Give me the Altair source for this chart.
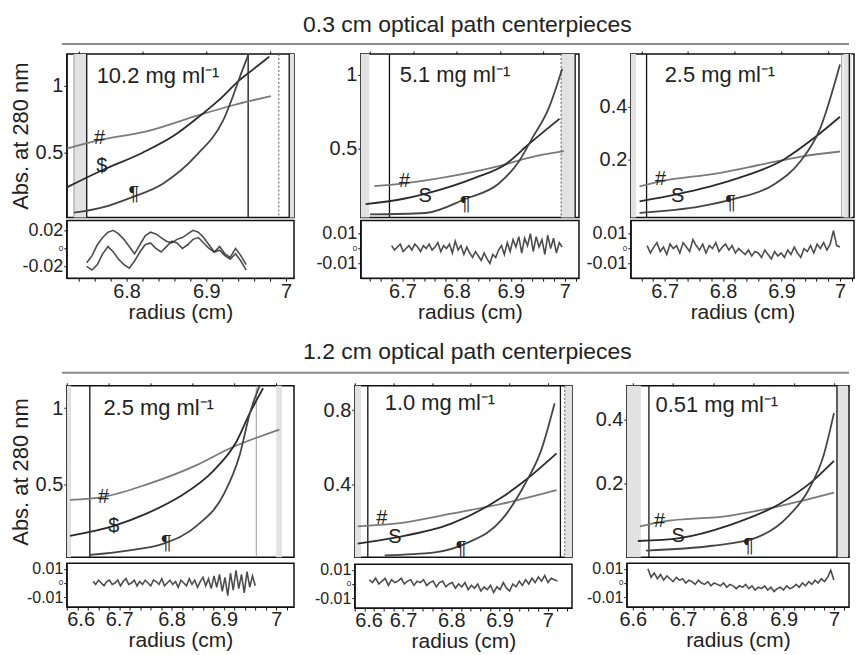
import altair as alt
import numpy as np
import pandas as pd

FONT = "Liberation Sans"

HEADERS = ["0.3 cm optical path centerpieces", "1.2 cm optical path centerpieces"]
CONC = ["10.2 mg ml\u207b\u00b9", "5.1 mg ml\u207b\u00b9", "2.5 mg ml\u207b\u00b9",
        "2.5 mg ml\u207b\u00b9", "1.0 mg ml\u207b\u00b9", "0.51 mg ml\u207b\u00b9"]
SYMS = [["#", "$", "\u00b6"], ["#", "S", "\u00b6"], ["#", "S", "\u00b6"],
        ["#", "$", "\u00b6"], ["#", "S", "\u00b6"], ["#", "S", "\u00b6"]]

# ---- curves: radius (cm) and absorbance, per panel and series (#, $, pilcrow)
T1_H_R = [6.725, 6.7625, 6.825, 6.8875, 6.93, 6.981]
T1_H_A = [0.53, 0.59, 0.66, 0.776, 0.85, 0.925]
T1_S_R = [6.725, 6.77, 6.82, 6.86, 6.8875, 6.915, 6.941, 6.96, 6.979]
T1_S_A = [0.24, 0.37, 0.50, 0.63, 0.754, 0.89, 1.04, 1.13, 1.22]
T1_P_R = [6.734, 6.77, 6.804, 6.846, 6.8875, 6.921, 6.946, 6.955]
T1_P_A = [0.05, 0.09, 0.16, 0.27, 0.48, 0.74, 1.13, 1.27]

T2_H_R = [6.648, 6.7, 6.805, 6.89, 6.927, 6.998]
T2_H_A = [0.243, 0.26, 0.32, 0.39, 0.43, 0.48]
T2_S_R = [6.632, 6.7, 6.742, 6.835, 6.89, 6.934, 6.99]
T2_S_A = [0.12, 0.155, 0.19, 0.30, 0.39, 0.53, 0.70]
T2_P_R = [6.64, 6.742, 6.816, 6.878, 6.915, 6.94, 6.97, 6.995]
T2_P_A = [0.05, 0.06, 0.155, 0.26, 0.41, 0.57, 0.77, 1.04]

T3_H_R = [6.657, 6.693, 6.79, 6.875, 6.932, 7.0]
T3_H_A = [0.098, 0.117, 0.147, 0.185, 0.21, 0.23]
T3_S_R = [6.657, 6.722, 6.819, 6.904, 6.955, 7.0]
T3_S_A = [0.041, 0.068, 0.124, 0.2, 0.28, 0.362]
T3_P_R = [6.657, 6.761, 6.819, 6.887, 6.932, 6.966, 7.0]
T3_P_A = [-0.003, 0.022, 0.05, 0.105, 0.192, 0.317, 0.56]

B1_H_R = [6.606, 6.67, 6.752, 6.848, 6.91, 7.006]
B1_H_A = [0.4, 0.42, 0.5, 0.627, 0.734, 0.86]
B1_S_R = [6.606, 6.69, 6.752, 6.815, 6.88, 6.924, 6.95, 6.975]
B1_S_A = [0.165, 0.23, 0.31, 0.42, 0.59, 0.78, 0.97, 1.13]
B1_P_R = [6.644, 6.72, 6.785, 6.848, 6.9, 6.93, 6.95, 6.97]
B1_P_A = [0.04, 0.07, 0.114, 0.23, 0.437, 0.69, 0.97, 1.16]

B2_H_R = [6.606, 6.683, 6.8, 6.904, 7.018]
B2_H_A = [0.176, 0.19, 0.244, 0.296, 0.37]
B2_S_R = [6.606, 6.683, 6.8, 6.904, 6.952, 7.018]
B2_S_A = [0.083, 0.115, 0.19, 0.33, 0.42, 0.567]
B2_P_R = [6.662, 6.766, 6.834, 6.904, 6.952, 6.987, 7.014]
B2_P_A = [0.02, 0.036, 0.088, 0.21, 0.4, 0.59, 0.836]

B3_H_R = [6.614, 6.659, 6.791, 6.89, 7.0]
B3_H_A = [0.064, 0.079, 0.097, 0.127, 0.17]
B3_S_R = [6.61, 6.693, 6.791, 6.89, 6.955, 7.0]
B3_S_A = [0.018, 0.027, 0.067, 0.133, 0.203, 0.27]
B3_P_R = [6.626, 6.758, 6.843, 6.91, 6.95, 6.98, 7.0]
B3_P_A = [-0.012, 0.003, 0.027, 0.097, 0.18, 0.29, 0.42]

# ---- label anchor points (radius, absorbance) for #, $, pilcrow and concentration text
LBL_POS = [
    [(6.766, 0.61), (6.769, 0.40), (6.809, 0.19)],
    [(6.704, 0.277), (6.742, 0.176), (6.816, 0.12)],
    [(6.693, 0.125), (6.722, 0.06), (6.813, 0.034)],
    [(6.67, 0.42), (6.69, 0.23), (6.79, 0.12)],
    [(6.656, 0.22), (6.683, 0.12), (6.82, 0.056)],
    [(6.653, 0.08), (6.69, 0.033), (6.83, 0.003)],
]
CONC_POS = [(6.7625, 1.075), (6.695, 1.0), (6.7, 0.52), (6.67, 1.0), (6.662, 0.836), (6.645, 0.445)]

# ---- residuals (fit - data), radius range and values
RES_RANGE = [(6.75, 6.95), (6.68, 6.995), (6.67, 7.0), (6.65, 6.96), (6.63, 7.02), (6.63, 7.0)]
RES_T1_A = [-0.016, -0.008, 0.004, 0.012, 0.018, 0.02, 0.016, 0.01, 0.002, -0.006, 0.004,
            0.014, 0.018, 0.016, 0.012, 0.008, 0.006, 0.01, 0.012, 0.016, 0.02, 0.018,
            0.012, 0.004, -0.004, -0.002, -0.008, -0.012, -0.006, -0.014, -0.024]
RES_T1_B = [-0.02, -0.024, -0.018, -0.006, 0.002, -0.004, -0.012, -0.018, -0.022, -0.014,
            -0.004, 0.004, 0.006, 0.0, -0.004, 0.002, 0.008, 0.006, 0.0, 0.004, 0.01, 0.012,
            0.006, 0.0, -0.004, 0.002, -0.006, -0.01, 0.0, -0.008, -0.018]
RES_T2 = [0.002, -0.001, 0.001, 0.003, -0.002, 0.0, 0.002, -0.001, 0.003, 0.001,
          -0.002, 0.002, 0.0, 0.003, -0.001, 0.001, 0.004, -0.002, 0.002, 0.0,
          0.003, -0.003, 0.005, -0.001, 0.002, -0.004, 0.001, -0.003, -0.006, -0.002,
          -0.005, -0.008, -0.003, -0.007, -0.010, -0.004, -0.006, -0.001, 0.002, -0.004,
          0.004, -0.002, 0.006, 0.001, 0.008, -0.003, 0.007, 0.002, 0.010, -0.002,
          0.008, 0.001, 0.006, -0.004, 0.009, 0.0, 0.007, -0.003, 0.004, 0.001]
RES_T3 = [0.002, -0.003, 0.001, 0.004, -0.002, 0.001, -0.004, 0.003, 0.0, 0.002,
          -0.003, 0.004, 0.001, -0.002, 0.006, 0.002, -0.001, 0.003, -0.003, 0.002,
          0.0, 0.004, -0.002, 0.001, 0.003, -0.001, 0.002, -0.003, 0.0, -0.002,
          -0.004, -0.001, -0.005, -0.002, -0.003, -0.006, -0.001, -0.004, -0.007, -0.002,
          -0.005, -0.003, -0.006, -0.001, -0.004, 0.001, -0.003, -0.006, 0.0, -0.002,
          0.002, -0.003, 0.003, 0.0, 0.004, -0.001, 0.003, 0.012, 0.002, 0.001]
RES_B1 = [0.001, -0.001, 0.002, 0.0, -0.002, 0.001, 0.002, -0.001, 0.0, 0.002,
          -0.002, 0.001, 0.003, -0.001, 0.0, 0.002, -0.002, 0.001, -0.001, 0.002,
          0.0, -0.002, 0.002, 0.001, -0.001, 0.003, -0.002, 0.0, 0.002, -0.001,
          0.001, -0.003, 0.002, 0.0, -0.002, 0.003, -0.001, 0.002, -0.003, 0.001,
          0.004, -0.002, 0.003, -0.004, 0.005, -0.003, 0.006, -0.006, 0.004, -0.009,
          0.007, -0.005, 0.009, -0.004, 0.006, -0.007, 0.008, -0.003, 0.005, -0.002]
RES_B2 = [0.003, 0.001, 0.004, 0.0, 0.002, 0.004, -0.001, 0.003, 0.001, 0.002,
          0.004, 0.0, 0.002, 0.003, -0.001, 0.002, 0.001, 0.003, -0.001, 0.001,
          0.002, -0.002, 0.001, 0.002, -0.002, 0.0, 0.001, -0.003, 0.0, -0.002,
          0.001, -0.004, -0.001, -0.003, 0.0, -0.005, -0.002, -0.004, -0.001, -0.006,
          -0.002, -0.004, 0.001, -0.003, -0.005, 0.0, -0.002, 0.002, -0.001, 0.003,
          0.0, 0.004, 0.001, 0.005, 0.002, 0.006, 0.001, 0.004, 0.003, 0.002]
RES_B3 = [0.01, 0.004, 0.007, 0.003, 0.006, 0.002, 0.005, 0.003, 0.001, 0.004,
          0.002, 0.003, 0.0, 0.002, 0.001, -0.001, 0.002, 0.0, -0.001, 0.001,
          -0.002, 0.0, -0.001, -0.002, 0.0, -0.003, -0.001, -0.002, -0.004, -0.002,
          -0.003, -0.001, -0.004, -0.002, -0.005, -0.003, -0.004, -0.002, -0.005, -0.003,
          -0.006, -0.004, -0.003, -0.005, -0.002, -0.004, -0.003, -0.001, -0.003, 0.0,
          -0.002, 0.001, -0.001, 0.002, 0.0, 0.003, 0.001, 0.004, 0.009, 0.002]

# ---- meniscus / cell-bottom markers (radius)
BANDS = [[(6.734, 6.75), (7.004, 7.01)], [(6.623, 6.639), (6.993, 7.019)],
         [(6.642, 6.651), (7.006, 7.02)], [(6.6, 6.608), (7.0, 7.011)],
         [(6.6, 6.613), (7.035, 7.05)], [(6.588, 6.616), (7.006, 7.028)]]
SOLID = [[6.75, 6.9525, 7.004], [6.676, 7.019], [6.669, 7.016], [6.644], [6.627, 7.026], [6.632, 7.006]]
DOTTED = [[6.991], [6.993], [], [], [7.035], []]
GRAYL = [[6.734], [], [7.003], [6.962], [], []]

# ---- axes
XDOM = [(6.725, 7.01), (6.623, 7.026), (6.642, 7.024), (6.6, 7.034), (6.6, 7.05), (6.588, 7.03)]
YDOM = [(0.015, 1.24), (0.03, 1.14), (-0.02, 0.6), (0.025, 1.146), (0.01, 0.93), (-0.033, 0.506)]
YLAB = [[0.5, 1], [0.5, 1], [0.2, 0.4], [0.5, 1], [0.4, 0.8], [0.2, 0.4]]
RDOM = [(-0.033, 0.031), (-0.02, 0.019), (-0.02, 0.019), (-0.017, 0.014), (-0.017, 0.014), (-0.017, 0.014)]
RLAB = [[-0.02, 0, 0.02], [-0.01, 0, 0.01], [-0.01, 0, 0.01], [-0.01, 0, 0.01], [-0.01, 0, 0.01], [-0.01, 0, 0.01]]
RLABSIZE = [18, 18, 18, 16, 16, 16]
WIDTHS = [228, 219, 224, 228, 218, 223]
HMAIN = [164, 164, 164, 172, 172, 172]
HRES = [58, 58, 58, 44, 44, 44]

CURVES = [
    [(T1_H_R, T1_H_A), (T1_S_R, T1_S_A), (T1_P_R, T1_P_A)],
    [(T2_H_R, T2_H_A), (T2_S_R, T2_S_A), (T2_P_R, T2_P_A)],
    [(T3_H_R, T3_H_A), (T3_S_R, T3_S_A), (T3_P_R, T3_P_A)],
    [(B1_H_R, B1_H_A), (B1_S_R, B1_S_A), (B1_P_R, B1_P_A)],
    [(B2_H_R, B2_H_A), (B2_S_R, B2_S_A), (B2_P_R, B2_P_A)],
    [(B3_H_R, B3_H_A), (B3_S_R, B3_S_A), (B3_P_R, B3_P_A)],
]
RESID = [[RES_T1_A, RES_T1_B], [RES_T2], [RES_T3], [RES_B1], [RES_B2], [RES_B3]]
SERIES = ["hash", "dollar", "para"]
SERIES_COL = ["#7a7a7a", "#2b2b2b", "#454545"]


def ticks(lo, hi, step):
    vals = np.round(np.arange(np.ceil(lo / step - 1e-9) * step, hi + 1e-9, step), 4)
    return [float(v) for v in vals if lo - 1e-9 <= v <= hi + 1e-9]


def panel(i, ytitle):
    xs = alt.Scale(domain=list(XDOM[i]), nice=False, zero=False)
    ys = alt.Scale(domain=list(YDOM[i]), nice=False, zero=False)
    xt = ticks(XDOM[i][0], XDOM[i][1], 0.02)
    yaxis = dict(values=YLAB[i], tickSize=3, labelPadding=1, format="~g")
    if ytitle:
        yaxis["titlePadding"] = 3
        yaxis["titleFontSize"] = 22
    X = alt.X("r:Q", scale=xs, title=None,
              axis=alt.Axis(orient="top", values=xt, labels=False, domain=False, tickSize=3))
    Y = alt.Y("A:Q", scale=ys, axis=alt.Axis(**yaxis), title="Abs. at 280 nm" if ytitle else None)

    rows = []
    for s, (rr, aa) in zip(SERIES, CURVES[i]):
        for r, a in zip(rr, aa):
            rows.append({"r": r, "A": a, "s": s})
    dfc = pd.DataFrame(rows)
    dfl = pd.DataFrame({"r": [p[0] for p in LBL_POS[i]], "A": [p[1] for p in LBL_POS[i]], "t": SYMS[i]})
    dfconc = pd.DataFrame({"r": [CONC_POS[i][0]], "A": [CONC_POS[i][1]], "t": [CONC[i]]})
    dfb = pd.DataFrame({"r": [b[0] for b in BANDS[i]], "r2": [b[1] for b in BANDS[i]]})

    layers = []
    layers.append(alt.Chart(dfb).mark_rect(color="#e2e2e2").encode(
        x=alt.X("r:Q", scale=xs, title=None), x2="r2:Q"))
    if GRAYL[i]:
        layers.append(alt.Chart(pd.DataFrame({"r": GRAYL[i]})).mark_rule(color="#9a9a9a", strokeWidth=1).encode(
            x=alt.X("r:Q", scale=xs, title=None)))
    if DOTTED[i]:
        layers.append(alt.Chart(pd.DataFrame({"r": DOTTED[i]})).mark_rule(color="#555", strokeWidth=1, strokeDash=[2, 2]).encode(
            x=alt.X("r:Q", scale=xs, title=None)))
    layers.append(alt.Chart(pd.DataFrame({"r": SOLID[i]})).mark_rule(color="#111", strokeWidth=1.3).encode(
        x=alt.X("r:Q", scale=xs, title=None)))
    layers.append(alt.Chart(dfc).mark_line(clip=True, strokeWidth=1.8, interpolate="monotone").encode(
        x=X, y=Y,
        color=alt.Color("s:N", scale=alt.Scale(domain=SERIES, range=SERIES_COL), legend=None),
        detail="s:N"))
    layers.append(alt.Chart(dfl).mark_text(font=FONT, fontSize=20, color="#222").encode(
        x=alt.X("r:Q", scale=xs), y=alt.Y("A:Q", scale=ys), text="t:N"))
    layers.append(alt.Chart(dfconc).mark_text(font=FONT, fontSize=22, color="#222", align="left").encode(
        x=alt.X("r:Q", scale=xs), y=alt.Y("A:Q", scale=ys), text="t:N"))
    main = alt.layer(*layers).properties(width=WIDTHS[i], height=HMAIN[i])

    rrows = []
    for k, tr in enumerate(RESID[i]):
        rr = np.linspace(RES_RANGE[i][0], RES_RANGE[i][1], len(tr))
        for r, v in zip(rr, tr):
            rrows.append({"r": float(r), "v": v, "trace": k})
    dfr = pd.DataFrame(rrows)
    resid = alt.Chart(dfr).mark_line(strokeWidth=1.6, color="#2e2e2e", opacity=0.85).encode(
        x=alt.X("r:Q", scale=xs, title="radius (cm)",
                axis=alt.Axis(values=xt, tickSize=3, labelPadding=0, titlePadding=0,
                              labelExpr="abs(datum.value*10 - round(datum.value*10)) < 0.001 ? format(datum.value, '~g') : ''")),
        y=alt.Y("v:Q", scale=alt.Scale(domain=list(RDOM[i]), nice=False, zero=False), title=None,
                axis=alt.Axis(values=RLAB[i], tickSize=3, labelPadding=1,
                              labelFontSize={"condition": {"test": "datum.value == 0", "value": 8}, "value": RLABSIZE[i]},
                              labelExpr="datum.value == 0 ? '0' : (datum.value < 0 ? '-' : '') + format(abs(datum.value), '.2f')")),
        detail="trace:N",
    ).properties(width=WIDTHS[i], height=HRES[i])
    return alt.vconcat(main, resid, spacing=0)


def header(text, h, ty, ry):
    d = pd.DataFrame({"t": [text]})
    t = alt.Chart(d).mark_text(font=FONT, fontSize=23, color="#222").encode(
        text="t:N", x=alt.value(402), y=alt.value(ty))
    r = alt.Chart(d).mark_rule(color="#8c8c8c", strokeWidth=2).encode(
        x=alt.value(-5), x2=alt.value(785), y=alt.value(ry))
    return alt.layer(t, r).properties(width=700, height=h, view=alt.ViewBackground(stroke="transparent"))


row1 = alt.hconcat(panel(0, True), alt.hconcat(panel(1, False), panel(2, False), spacing=5), spacing=20)
row2 = alt.hconcat(panel(3, True), alt.hconcat(panel(4, False), panel(5, False), spacing=12), spacing=18)

chart = alt.vconcat(
    header(HEADERS[0], 38, 15, 34), row1,
    header(HEADERS[1], 56, 28, 49), row2,
    spacing=0,
).properties(padding=0).configure_axis(
    labelFont=FONT, titleFont=FONT, labelFontSize=20, titleFontSize=21,
    titleFontWeight="normal", labelColor="#222", titleColor="#222",
    domainColor="#111", tickColor="#111", grid=False, labelOverlap=False,
).configure_view(stroke="#111", strokeWidth=1.5)

chart.save("out.html", embed_options={"renderer": "svg", "actions": False})
